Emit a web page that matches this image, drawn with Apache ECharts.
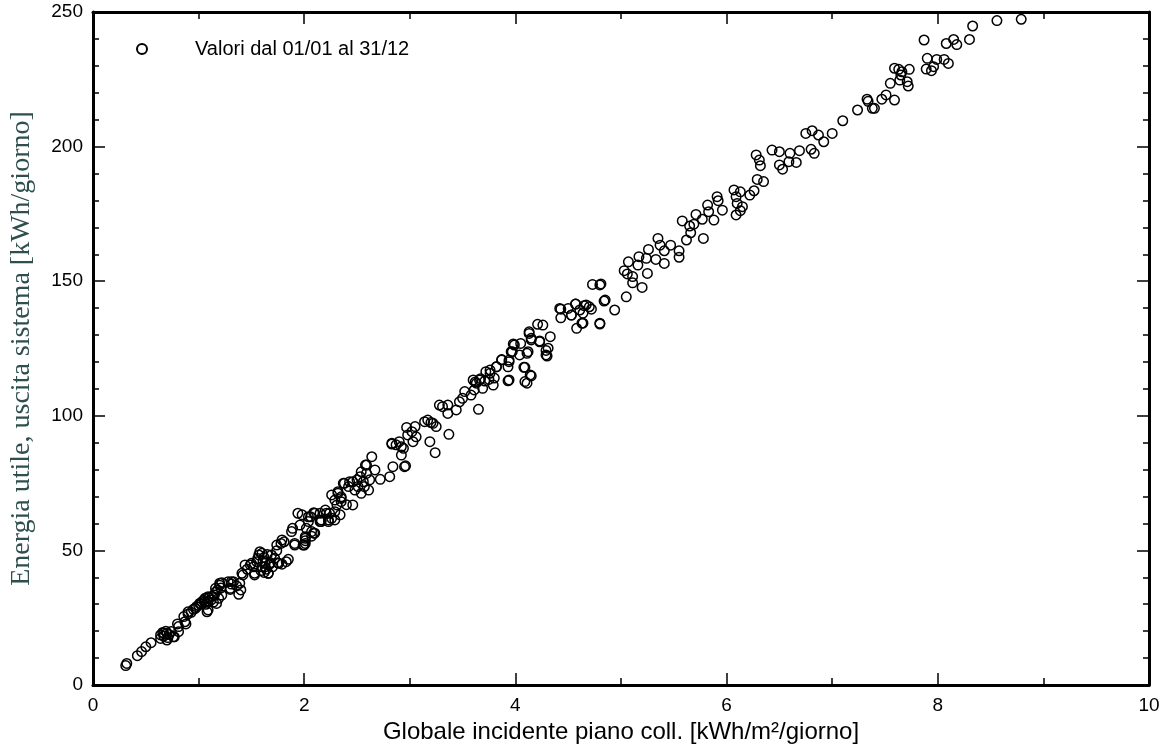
<!DOCTYPE html>
<html>
<head>
<meta charset="utf-8">
<script src="https://cdn.jsdelivr.net/npm/echarts@6/dist/echarts.min.js"></script>
<style>
html,body{margin:0;padding:0;background:#fff;}
#chart{width:1170px;height:751px;}
</style>
</head>
<body>
<div id="chart"></div>
<script>
// Globale incidente piano coll. [kWh/m²/giorno]
const globale = [
0.31,0.32,0.42,0.46,0.50,0.55,0.64,0.66,0.67,0.69,0.70,0.71,0.72,0.74,0.77,0.81,0.80,0.86,0.88,0.90,
0.93,0.95,0.98,1.00,1.02,1.03,1.05,1.06,1.07,1.08,1.09,1.10,1.12,1.13,1.14,1.15,1.16,1.17,1.18,1.19,
1.20,1.21,1.22,1.28,1.30,1.31,1.33,1.36,1.38,1.40,1.42,1.44,1.46,1.49,1.52,1.53,1.55,1.56,1.57,1.58,
1.59,1.60,1.60,1.61,1.62,1.62,1.63,1.64,1.65,1.66,1.67,1.68,1.70,1.72,1.74,1.75,1.78,1.79,1.81,1.85,
1.89,1.91,1.96,1.98,2.00,2.01,2.01,2.04,2.04,2.06,2.07,2.07,2.09,2.10,2.10,2.15,2.15,2.16,2.21,2.23,
2.24,2.26,2.26,2.29,2.29,2.31,2.32,2.34,2.35,2.37,2.40,2.42,2.43,2.46,2.48,2.50,2.53,2.54,2.56,2.57,
2.59,2.59,2.62,2.64,2.67,2.72,2.81,2.83,2.84,2.87,2.90,2.92,2.94,2.95,2.97,2.98,3.02,3.03,3.05,3.06,
3.14,3.17,3.19,3.20,3.22,3.24,3.25,3.28,3.31,3.36,3.36,3.37,3.44,3.47,3.50,3.52,3.58,3.60,3.61,3.63,
3.65,3.66,3.69,3.72,3.76,3.79,3.82,3.87,3.93,3.94,3.96,3.99,4.04,4.05,4.08,4.11,4.11,4.13,4.14,4.15,
4.23,4.26,4.29,4.29,4.31,4.33,4.43,4.43,4.50,4.53,4.57,4.58,4.61,4.63,4.64,4.67,4.70,4.72,4.73,4.80,
4.81,4.84,4.85,4.94,5.03,5.05,5.06,5.07,5.11,5.11,5.16,5.17,5.20,5.24,5.25,5.26,5.33,5.35,5.37,5.41,
5.41,5.47,5.55,5.55,5.58,5.62,5.65,5.66,5.69,5.71,5.77,5.78,5.82,5.83,5.88,5.91,5.92,5.96,6.07,6.09,
6.09,6.10,6.13,6.13,6.15,6.22,6.26,6.28,6.29,6.31,6.32,6.35,6.43,6.50,6.50,6.53,6.59,6.60,6.66,6.69,
6.75,6.80,6.81,6.83,6.87,6.92,7.00,7.10,7.24,7.33,7.34,7.38,7.40,7.47,7.51,7.55,7.59,7.59,7.63,7.64,
7.65,7.66,7.71,7.72,7.73,7.87,7.89,7.90,7.94,7.96,7.99,8.06,8.08,8.10,8.15,8.18,8.30,8.33,8.56,8.79,
// extra points read in dense clusters
2.58,2.54,2.38,2.46,2.51,2.61,2.32,2.35,2.35,2.20,1.94,2.16,2.23,2.29,2.02,2.09,2.01,2.83,2.92,2.96,
4.80,4.42,4.53,4.57,4.65,4.64,4.80,4.21,4.13,4.15,4.23,3.98,3.97,4.12,4.30,3.87,3.94,3.93,3.76,3.82,
4.09,4.15,4.09,3.94,3.62,3.67,3.71,3.75,3.80,
1.88,2.01,1.91,1.99,1.79,1.74,1.83,1.76,1.69,1.50,1.53,1.66,1.63,1.41,1.31,1.39,1.30,1.20,1.22,1.16,
1.09,1.06,1.09,1.01,0.97,0.90,0.87,0.81,0.76,0.67,0.64,0.70
];
// Energia utile, uscita sistema [kWh/giorno]
const energia = [
7.2,8.0,10.9,12.4,14.2,15.7,18.6,19.5,18.2,20.0,19.2,17.6,18.8,19.9,17.9,19.8,22.7,25.4,22.7,26.4,
27.0,28.1,29.1,29.6,30.2,30.9,31.5,32.2,30.0,27.2,31.0,32.5,31.6,33.0,30.8,33.4,34.5,30.3,35.3,32.2,
37.1,36.0,38.0,38.4,35.5,37.5,38.4,36.8,33.7,35.3,40.9,44.6,43.0,44.6,43.9,40.9,45.8,47.0,48.3,49.5,
42.5,48.9,43.9,46.2,47.4,41.8,45.2,43.0,48.5,41.5,44.8,45.4,43.9,47.1,49.9,45.4,52.6,44.9,53.2,46.7,
58.2,52.6,59.4,63.2,52.0,53.6,52.6,60.7,62.5,62.5,57.0,55.3,64.0,56.4,63.8,63.8,60.7,60.7,63.8,61.3,
63.8,61.9,70.6,64.4,68.7,66.9,71.2,63.2,69.9,74.9,67.0,73.7,75.5,66.9,72.4,76.2,77.4,71.2,75.5,73.7,
78.6,81.7,76.2,84.8,79.9,76.4,77.4,89.5,81.1,89.2,90.4,85.4,87.9,81.1,95.7,92.9,94.1,90.4,96.0,92.2,
97.8,98.4,90.4,97.5,97.2,86.3,96.0,104.0,103.4,104.0,100.9,93.1,102.2,105.2,106.5,109.0,107.7,113.3,109.6,112.1,
102.4,113.3,110.2,116.4,115.8,111.4,118.2,120.7,113.0,120.1,123.8,126.3,122.6,126.9,118.0,112.1,123.2,130.6,115.2,128.8,
127.5,133.7,122.6,124.3,125.1,129.4,139.6,136.4,139.9,137.4,141.5,132.5,139.3,134.4,138.1,141.2,140.5,139.6,148.8,134.1,
149.0,142.6,143.0,139.3,153.9,144.2,152.7,157.2,151.7,149.4,156.0,159.1,147.7,158.5,152.9,161.8,158.1,165.9,163.4,161.3,
156.6,163.4,161.3,158.9,172.4,165.3,170.5,168.0,171.2,174.8,173.0,165.9,178.3,175.8,172.7,181.4,179.9,176.4,183.9,181.4,
174.6,178.9,183.2,176.2,177.7,182.0,183.6,196.9,187.8,195.0,192.9,187.0,198.7,198.1,193.2,191.6,194.4,197.5,194.1,198.5,
204.9,199.0,205.9,197.5,204.3,201.8,204.9,209.6,213.6,217.6,216.8,214.2,214.2,217.6,219.2,223.5,217.3,229.1,228.7,224.7,
226.6,227.8,224.1,222.5,228.7,239.6,228.8,232.8,228.2,229.7,232.4,232.4,238.3,230.9,239.8,237.9,239.8,244.8,246.8,247.3,
81.7,79.2,74.9,75.5,73.7,72.4,71.8,68.1,69.3,65.0,63.8,61.3,60.7,61.3,58.2,56.4,54.5,89.8,88.5,81.4,
148.6,139.9,137.4,141.5,140.9,134.4,134.4,134.0,131.2,128.2,127.8,126.7,123.8,123.8,122.2,120.9,120.7,118.2,117.0,118.2,
118.0,114.8,112.7,113.3,112.6,113.8,112.9,113.5,114.0,
57.0,55.1,52.0,52.0,53.9,52.0,45.8,45.2,48.3,45.2,41.5,41.5,43.9,41.5,38.4,37.8,35.9,37.8,33.4,35.9,
32.8,30.9,27.9,30.3,28.5,27.2,23.5,21.7,17.9,19.2,17.3,16.7
];
const seriesName = 'Valori dal 01/01 al 31/12';
const xTitle = 'Globale incidente piano coll. [kWh/m²/giorno]';
const yTitle = 'Energia utile, uscita sistema [kWh/giorno]';

const points = globale.map((g, i) => [g, energia[i]]);

const chart = echarts.init(document.getElementById('chart'), null, {renderer: 'canvas'});
const axisLine = {show: true, onZero: false, lineStyle: {color: '#000', width: 3}};
const labelFont = {color: '#000', fontFamily: 'Liberation Sans, Arial, sans-serif', fontSize: 19};
function xAxisCfg(pos, showLabel) {
  return {
    type: 'value', position: pos, min: 0, max: 10, interval: 2,
    axisLine: axisLine,
    axisTick: {show: true, inside: true, length: 12, lineStyle: {color: '#000', width: 1.5}},
    minorTick: {show: true, splitNumber: 2, length: 7, lineStyle: {color: '#000', width: 1.5}},
    axisLabel: Object.assign({show: showLabel, margin: 11}, labelFont),
    splitLine: {show: false},
    name: showLabel ? xTitle : '',
    nameLocation: 'middle', nameGap: 35,
    nameTextStyle: {color: '#000', fontFamily: 'Liberation Sans, Arial, sans-serif', fontSize: 24}
  };
}
function yAxisCfg(pos, showLabel) {
  return {
    type: 'value', position: pos, min: 0, max: 250, interval: 50,
    axisLine: axisLine,
    axisTick: {show: true, inside: true, length: 12, lineStyle: {color: '#000', width: 1.5}},
    minorTick: {show: true, splitNumber: 5, length: 6, lineStyle: {color: '#000', width: 1.5}},
    axisLabel: Object.assign({show: showLabel, margin: 10}, labelFont),
    splitLine: {show: false},
    name: showLabel ? yTitle : '',
    nameLocation: 'middle', nameGap: 57, nameRotate: 90,
    nameTextStyle: {color: '#2f4f4f', fontFamily: 'Liberation Serif, Times New Roman, serif', fontSize: 28}
  };
}

chart.setOption({
  animation: false,
  backgroundColor: '#fff',
  grid: {left: 91, right: 21, top: 12, bottom: 66, containLabel: false},
  legend: {
    show: true, left: 131, top: 34, orient: 'vertical',
    icon: 'circle', itemWidth: 10, itemHeight: 10,
    textStyle: {color: '#000', fontFamily: 'Liberation Sans, Arial, sans-serif', fontSize: 20, padding: [0, 0, 0, 43]},
    data: [seriesName]
  },
  xAxis: [xAxisCfg('bottom', true), xAxisCfg('top', false)],
  yAxis: [yAxisCfg('left', true), yAxisCfg('right', false)],
  series: [{
    name: seriesName,
    type: 'scatter',
    xAxisIndex: 0, yAxisIndex: 0,
    symbol: 'circle', symbolSize: 9.5,
    itemStyle: {color: 'rgba(255,255,255,0)', borderColor: '#000', borderWidth: 1.5, opacity: 1},
    emphasis: {disabled: true},
    data: points
  }]
});
</script>
</body>
</html>
